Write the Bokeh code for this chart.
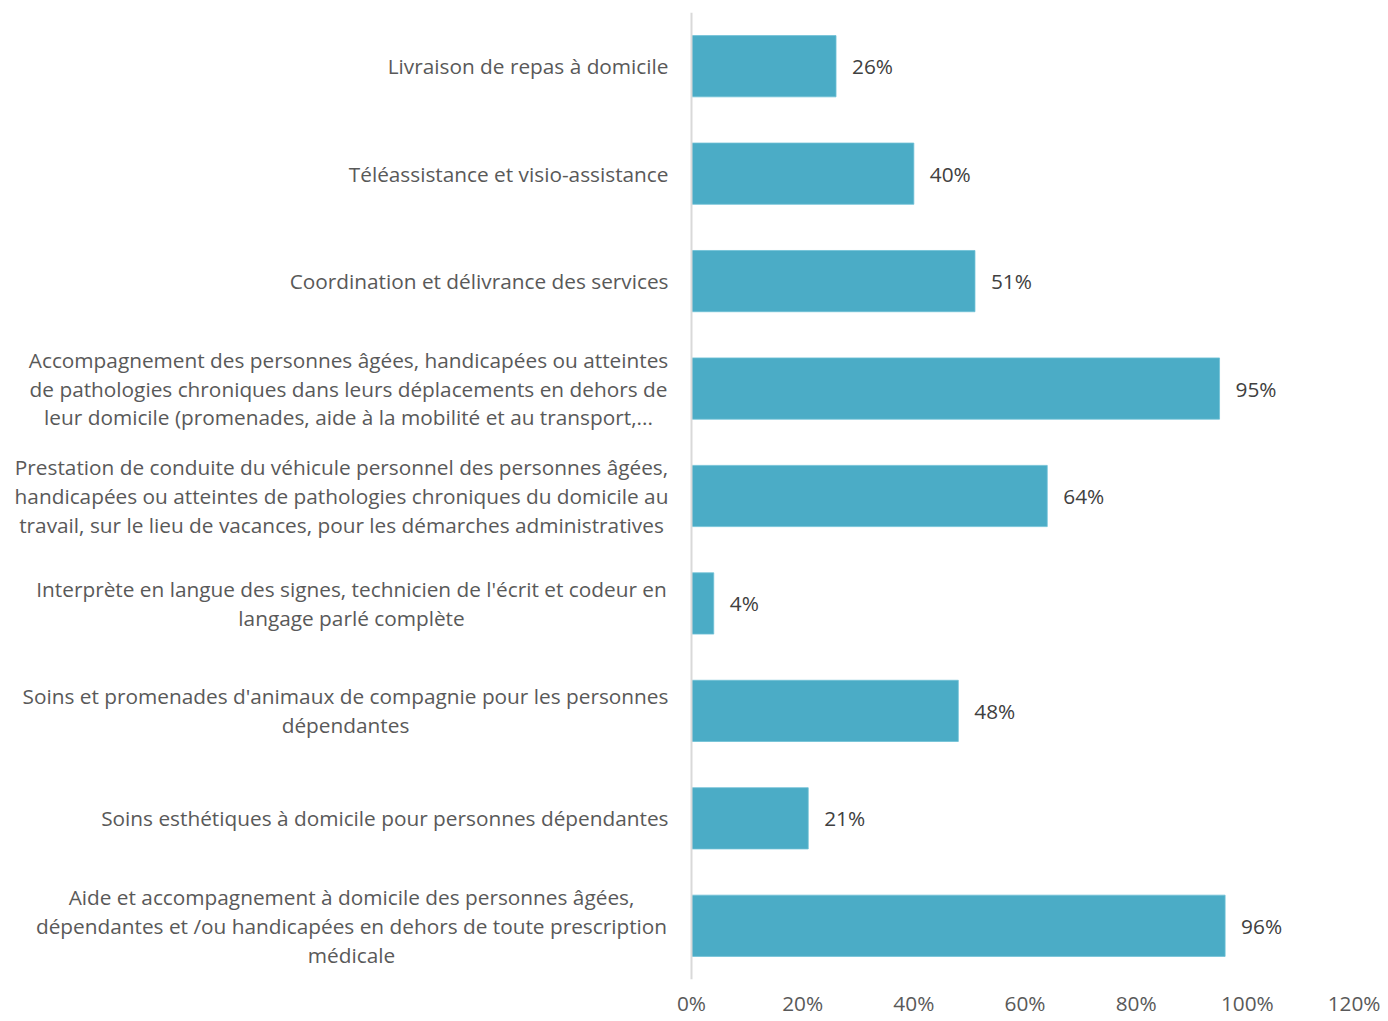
from bokeh.plotting import figure
from bokeh.models import ColumnDataSource, FactorRange, Range1d, FixedTicker, Span, CustomJSTickFormatter
from bokeh.core.properties import value
from bokeh.embed import file_html
from bokeh.resources import INLINE

categories = [
    "Livraison de repas à domicile",
    "Téléassistance et visio-assistance",
    "Coordination et délivrance des services",
    "Accompagnement des personnes âgées, handicapées ou atteintes\nde pathologies chroniques dans leurs déplacements en dehors de\nleur domicile (promenades, aide à la mobilité et au transport,...",
    "Prestation de conduite du véhicule personnel des personnes âgées,\nhandicapées ou atteintes de pathologies chroniques du domicile au\ntravail, sur le lieu de vacances, pour les démarches administratives",
    "Interprète en langue des signes, technicien de l'écrit et codeur en\nlangage parlé complète",
    "Soins et promenades d'animaux de compagnie pour les personnes\ndépendantes",
    "Soins esthétiques à domicile pour personnes dépendantes",
    "Aide et accompagnement à domicile des personnes âgées,\ndépendantes et /ou handicapées en dehors de toute prescription\nmédicale",
]
values = [0.26, 0.40, 0.51, 0.95, 0.64, 0.04, 0.48, 0.21, 0.96]
value_labels = ["26%", "40%", "51%", "95%", "64%", "4%", "48%", "21%", "96%"]
tick_values = [0, 0.2, 0.4, 0.6, 0.8, 1.0, 1.2]

keys = [str(i) for i in range(len(categories))]
multi = ["\n" in c for c in categories]
# horizontal offset (px) of each label's anchor from the 0% line
label_offsets = [-23, -23, -23, -343, -350, -340, -346, -23, -340]
label_align = ["center" if m else "right" for m in multi]

src = ColumnDataSource(dict(
    y=keys, v=values, vl=value_labels, lab=categories,
    zero=[0.0] * len(keys), xo=label_offsets, al=label_align,
))

W, H = 1380, 1019
p = figure(width=W, height=H, output_backend="svg", toolbar_location=None,
           y_range=FactorRange(factors=list(reversed(keys))),
           x_range=Range1d(-1.2432, 1.2),
           min_border_left=0, min_border_right=22, min_border_top=12,
           min_border_bottom=30)
p.outline_line_color = None
p.grid.visible = False
p.yaxis.visible = False

p.hbar(y="y", right="v", left=0, height=0.57, source=src,
       fill_color="#4BACC6", line_color="#6FC0D6", line_width=0.8)

p.text(x="v", y="y", text="vl", source=src, x_offset=16,
       text_align="left", text_baseline="middle",
       text_font=value("Open Sans"), text_font_size="20.8px",
       text_color="#404040")

p.text(x="zero", y="y", text="lab", source=src, x_offset="xo",
       text_align="al", text_baseline="middle", text_line_height=1.03,
       text_font=value("Open Sans"), text_font_size="20.8px",
       text_color="#595959")

p.add_layout(Span(location=0, dimension="height", line_color="#D9D9D9", line_width=2))

ax = p.xaxis[0]
ax.ticker = FixedTicker(ticks=tick_values)
ax.formatter = CustomJSTickFormatter(code="return Math.round(tick*100) + '%';")
ax.axis_line_color = None
ax.major_tick_line_color = None
ax.minor_tick_line_color = None
ax.major_label_standoff = 3
ax.major_label_text_font = "Open Sans"
ax.major_label_text_font_size = "20.8px"
ax.major_label_text_color = "#595959"

open("out.html", "w").write(file_html(p, INLINE))
